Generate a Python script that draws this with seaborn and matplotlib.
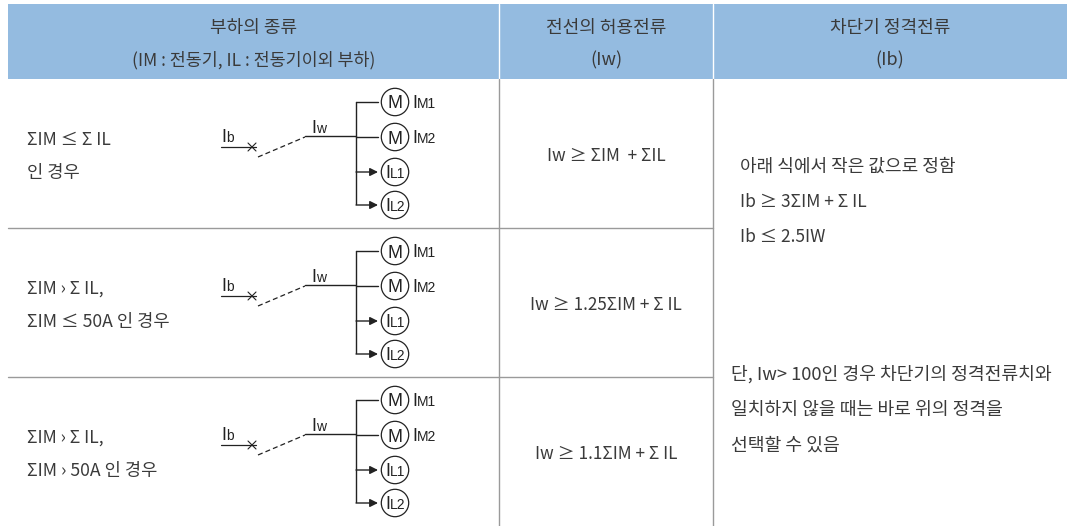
import matplotlib
matplotlib.use('Agg')
import matplotlib.pyplot as plt
from matplotlib.patches import Circle, Rectangle
import seaborn as sns

# table text
header_left = ['부하의 종류', '(IM : 전동기, IL : 전동기이외 부하)']
header_mid = ['전선의 허용전류', '(Iw)']
header_right = ['차단기 정격전류', '(Ib)']
row_left = [['ΣIM ≤ Σ IL', '인 경우'],
            ['ΣIM › Σ IL,', 'ΣIM ≤ 50A 인 경우'],
            ['ΣIM › Σ IL,', 'ΣIM › 50A 인 경우']]
row_mid = ['Iw ≥ ΣIM  + ΣIL', 'Iw ≥ 1.25ΣIM + Σ IL', 'Iw ≥ 1.1ΣIM + Σ IL']
right_top = ['아래 식에서 작은 값으로 정함', 'Ib ≥ 3ΣIM + Σ IL', 'Ib ≤ 2.5IW']
right_bottom = ['단, Iw> 100인 경우 차단기의 정격전류치와', '일치하지 않을 때는 바로 위의 정격을', '선택할 수 있음']
loads = ['M', 'M', 'IL1', 'IL2']
load_labels = ['IM1', 'IM2', '', '']

sns.set_theme(style='white')
plt.rcParams['font.family'] = ['Noto Sans CJK KR', 'DejaVu Sans']

TXT = '#3a3a3a'
GRID = '#9a9a9a'
HEAD = '#94bbe0'
INK = '#222222'
FS = 13.0      # korean lines
FS_MIX = 12.5  # lines with mostly latin

fig = plt.figure(figsize=(10.74, 5.26), dpi=100)
ax = fig.add_axes([0, 0, 1, 1])
ax.set_xlim(0, 1074)
ax.set_ylim(526, 0)
ax.axis('off')


def wire(xs, ys, lw=1.0, ls='-', color=INK):
    sns.lineplot(x=xs, y=ys, ax=ax, sort=False, estimator=None, color=color,
                 linewidth=lw, linestyle=ls, legend=False)


def sym(x, y, big, small):
    # diagram letter with its small subscript, both on one baseline
    ax.text(x, y, big, fontsize=13, family='Liberation Sans', va='baseline', color=INK, zorder=4)
    ax.text(x + 5, y, small, fontsize=10, family='Liberation Sans', va='baseline', color=INK, zorder=4)


# header band
ax.add_patch(Rectangle((8, 4), 1059, 75, facecolor=HEAD, edgecolor='none'))
for x in [499, 713]:
    wire([x, x], [4, 79], lw=1.0, color='white')
for x, lines, fs in zip([254, 606, 890], [header_left, header_mid, header_right], [FS_MIX, FS, FS]):
    ax.text(x, 28, lines[0], ha='center', va='center', fontsize=FS, color=TXT)
    ax.text(x, 60, lines[1], ha='center', va='center', fontsize=fs, color=TXT)

# grid
for x in [499, 713]:
    wire([x, x], [79, 526], lw=1.0, color=GRID)
for y in [228, 377]:
    wire([8, 713], [y, y], lw=1.0, color=GRID)

# rows
for i in range(3):
    dy = i * 149
    ax.text(27, 140 + dy, row_left[i][0], va='center', fontsize=FS_MIX, color=TXT)
    ax.text(27, 173 + dy, row_left[i][1], va='center', fontsize=12.7, color=TXT)
    ax.text(606, 156 + dy, row_mid[i], ha='center', va='center', fontsize=12.3, color=TXT)

    # circuit diagram
    wire([221, 256], [147 + dy, 147 + dy], lw=0.9)
    wire([248, 256], [143 + dy, 151 + dy], lw=0.8)
    wire([248, 256], [151 + dy, 143 + dy], lw=0.8)
    wire([258, 305], [157 + dy, 137 + dy], lw=0.9, ls=(0, (4, 2.5)))
    wire([305, 356], [136 + dy, 136 + dy], lw=1.0)
    wire([356, 356], [102 + dy, 204 + dy], lw=1.0)
    sym(221, 142 + dy, 'I', 'b')
    sym(311, 133 + dy, 'I', 'w')
    for load, label, cy in zip(loads, load_labels, [102, 137, 172, 205]):
        y = cy + dy
        ax.add_patch(Circle((395, y), 13.7, facecolor='white', edgecolor=INK, linewidth=0.9, zorder=3))
        if load == 'M':
            wire([356, 378], [y, y], lw=1.0)
            ax.text(395, y + 6.5, 'M', ha='center', va='baseline', fontsize=13,
                    family='Liberation Sans', color=INK, zorder=4)
            sym(412, y + 6, 'I', label[1:])
        else:
            ax.annotate('', xy=(378, y), xytext=(356, y),
                        arrowprops=dict(arrowstyle='-|>', color=INK, lw=1.0, mutation_scale=12,
                                        shrinkA=0, shrinkB=0))
            sym(385, y + 6, 'I', load[1:])

# right column
for y, t, fs in zip([167, 202, 237], right_top, [FS, FS_MIX, FS_MIX]):
    ax.text(740, y, t, va='center', fontsize=fs, color=TXT)
for y, t in zip([374, 410, 446], right_bottom):
    ax.text(731, y, t, va='center', fontsize=13.15, color=TXT)

fig.savefig('out.png', dpi=100)
